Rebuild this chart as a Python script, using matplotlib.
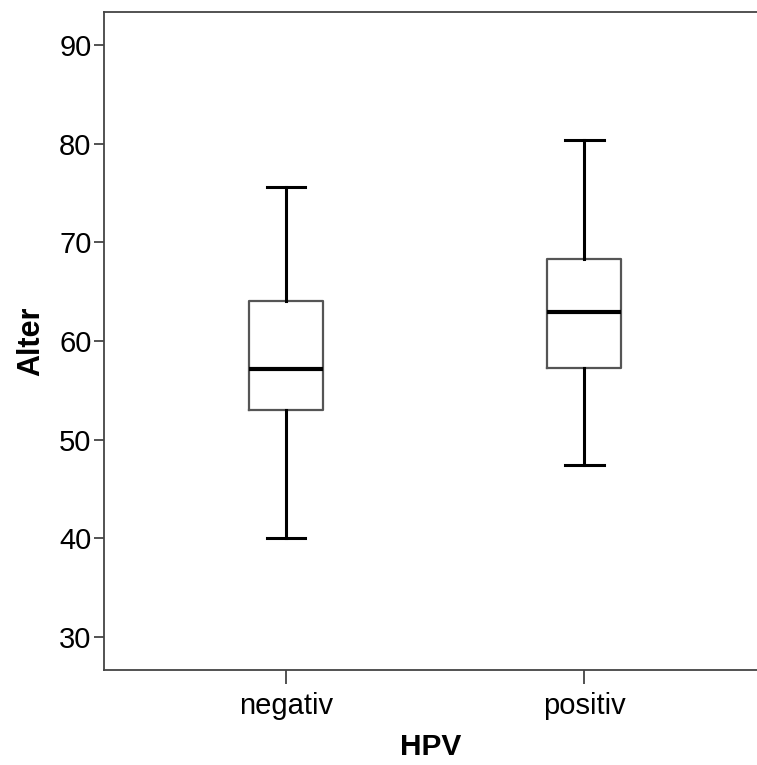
import matplotlib
matplotlib.use("Agg")
import matplotlib.pyplot as plt

categories = ["negativ", "positiv"]
whislo = [40.0, 47.4]
q1 = [53.0, 57.3]
med = [57.2, 62.9]
q3 = [64.1, 68.3]
whishi = [75.6, 80.4]
yticks = [30, 40, 50, 60, 70, 80, 90]

plt.rcParams['font.family'] = ['Liberation Sans', 'DejaVu Sans']

fig = plt.figure(figsize=(7.57, 7.65), dpi=100)
ax = fig.add_axes([104/757, 1-670/765, 1-104/757, (670-12)/765])

stats = []
for i, c in enumerate(categories):
    stats.append(dict(label=c, whislo=whislo[i], q1=q1[i], med=med[i], q3=q3[i], whishi=whishi[i], fliers=[]))

ax.bxp(stats, positions=[1, 2], widths=0.25, capwidths=0.13, showfliers=False,
       boxprops=dict(color='#555555', linewidth=1.6),
       whiskerprops=dict(color='black', linewidth=2.2),
       capprops=dict(color='black', linewidth=2.2),
       medianprops=dict(color='black', linewidth=3))

ax.set_xlim(0.389, 2.58)
ax.set_ylim(26.66, 93.34)
ax.set_yticks(yticks)
ax.set_xticks([1, 2])
ax.set_xticklabels(categories)
for s in ['left', 'bottom', 'top']:
    ax.spines[s].set_color('#444444')
    ax.spines[s].set_linewidth(1.3)
ax.spines['right'].set_visible(False)
ax.tick_params(axis='y', length=7, width=1.3, color='#444444', labelsize=21, pad=2)
ax.tick_params(axis='x', length=10, width=1.3, color='#444444', labelsize=21, pad=6)
ax.set_ylabel("Alter", fontsize=22, fontweight='bold', labelpad=9)
ax.set_xlabel("HPV", fontsize=21.5, fontweight='bold', labelpad=9)

fig.savefig("out.png", dpi=100)
